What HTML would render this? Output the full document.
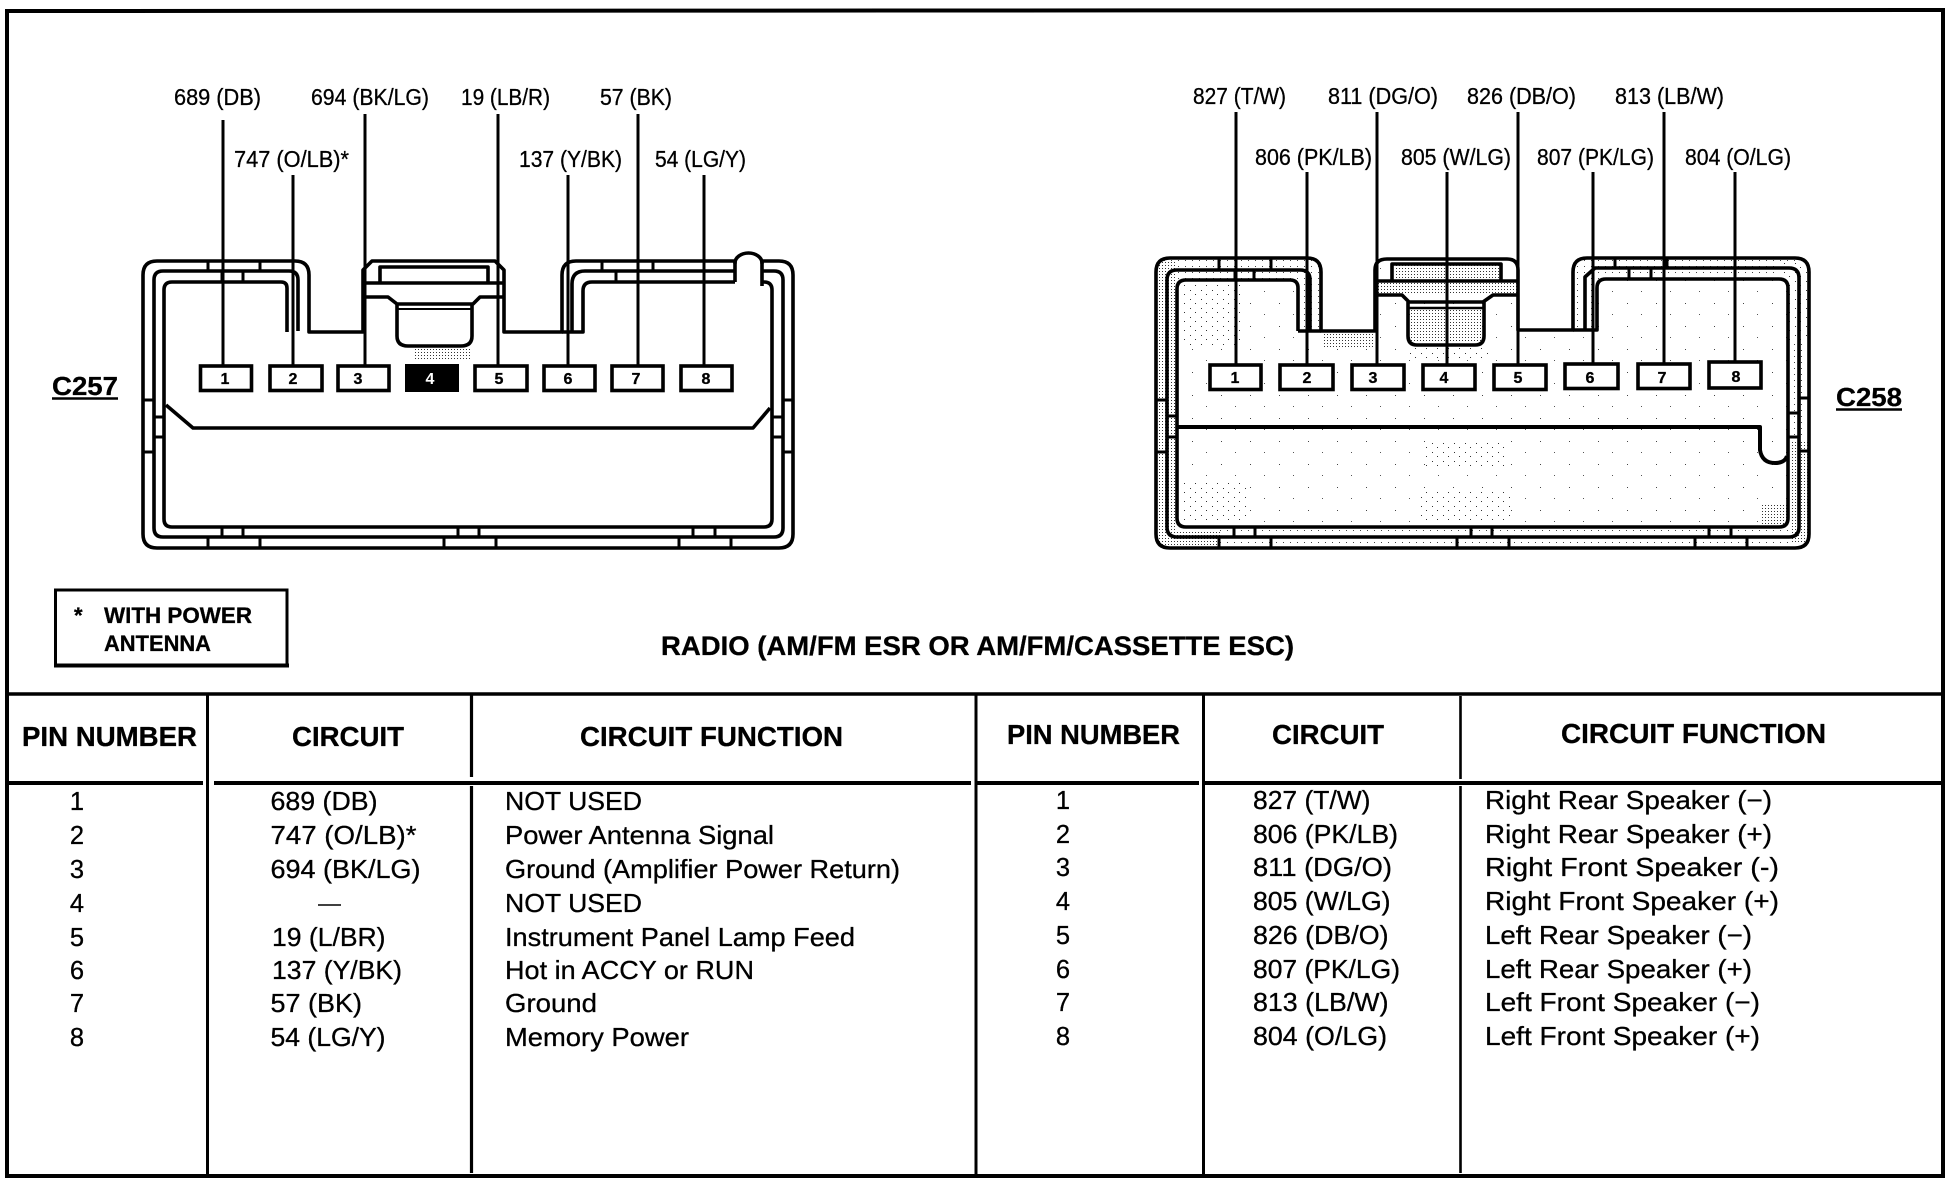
<!DOCTYPE html>
<html><head><meta charset="utf-8"><style>
html,body{margin:0;padding:0;background:#fff;width:1950px;height:1184px;overflow:hidden}
svg{display:block}
text{font-family:"Liberation Sans",Arial,sans-serif;fill:#000;stroke:#000;stroke-width:.3}
.l{font-size:23px}
.t{font-size:26px}
.h{font-size:27.5px;font-weight:bold}
.n{font-size:16px;font-weight:bold;text-anchor:middle}
.p{font-size:25.5px;text-anchor:middle}
.c{fill:none;stroke:#000;stroke-width:3.6;stroke-linejoin:round}
.d{stroke:#000;stroke-width:3}
.b{fill:#fff;stroke:#000;stroke-width:3.6}
.r{stroke:#000;fill:none}
</style></head><body>
<svg width="1950" height="1184" viewBox="0 0 1950 1184" xmlns="http://www.w3.org/2000/svg">
<defs>
<pattern id="st" width="3" height="3" patternUnits="userSpaceOnUse"><rect width="3" height="3" fill="#fff"/><rect x="1" y="1" width="1" height="1" fill="#333"/></pattern>
<pattern id="sm" width="7" height="6" patternUnits="userSpaceOnUse"><rect width="7" height="6" fill="#fff"/><rect x="2" y="2" width="1" height="1" fill="#444"/></pattern>
<pattern id="sp" width="29" height="23" patternUnits="userSpaceOnUse"><rect width="29" height="23" fill="#fff"/><rect x="3" y="4" width="1" height="1" fill="#444"/><rect x="17" y="15" width="1" height="1" fill="#555"/></pattern>
<pattern id="sc" width="11" height="9" patternUnits="userSpaceOnUse"><rect width="11" height="9" fill="#fff"/><rect x="2" y="2" width="1" height="1" fill="#333"/><rect x="7" y="6" width="1" height="1" fill="#333"/></pattern>
</defs>
<rect width="1950" height="1184" fill="#fff"/>

<!-- frame -->
<g class="r">
<path d="M7,1178 L7,11 L1943,10 L1943,1176 L7,1176" stroke-width="4"/>
<path d="M7,694 L1943,694" stroke-width="3.6"/>
<path d="M7,783 L203,783 M214,783 L971,783 M977,783 L1199,783 M1205,783 L1941,783" stroke-width="4"/>
<path d="M207.500,694 V1174 M976,694 V1174 M1203.500,694 V1176" stroke-width="3"/>
<path d="M471.500,694 V777 M471.500,786 V1173" stroke-width="3.2"/>
<path d="M1460.500,696 V779 M1460.500,786 V1173" stroke-width="2.6"/>
</g>

<!-- C257 connector -->
<g>
<rect x="415" y="349" width="55" height="10" fill="url(#st)"/>
<path class="c" d="M143,275 Q143,261 157,261 L295,261 Q309,261 309,275 L309,332 L363,332 L363,270 L372,261 L495,261 L504,270 L504,332 L562,332 L562,275 Q562,261 576,261 L735,261 L735,263 A13.500,10 0 0 1 762,263 L762,261 L779,261 Q793,261 793,275 L793,534 Q793,548 779,548 L157,548 Q143,548 143,534 Z"/>
<path class="c" d="M298,331 L298,280 Q298,271 289,271 L163,271 Q154,271 154,280 L154,528 Q154,537 163,537 L774,537 Q783,537 783,528 L783,280 Q783,271 774,271 L763,271 M735,271 L585,271 Q572,271 572,284 L572,331"/>
<path class="c" d="M287,332 L287,288 Q287,282 281,282 L172,282 Q164,282 164,290 L164,519 Q164,527 172,527 L764,527 Q772,527 772,519 L772,290 Q772,282 764,282 L762,282 M735,282 L592,282 Q583,282 583,291 L583,332 L562,332 M735,261 V282 M762,261 V286"/>
<path class="c" d="M166,405 L193,428 L753,428 L770,408"/>
<path class="c" d="M380,283 V267 H488 V283 M363,283 H504 M363,297 H388 L397,304 H473 L480,297 H504"/>
<path class="c" d="M397,304 V336 Q397,346 408,346 H461 Q472,346 472,336 V304" />
<path d="M397,309 H472" class="r" stroke-width="2"/>
<g class="d">
<path d="M208,261V271M260,261V271M602,261V271M653,261V271M243,271V282M222,271V282M616,271V282"/>
<path d="M222,527V537M243,527V537M458,527V537M479,527V537M693,527V537M715,527V537M208,537V548M260,537V548M444,537V548M496,537V548M679,537V548M731,537V548"/>
<path d="M143,400H154M143,452H154M154,417H164M154,437H164M783,400H793M783,452H793M772,417H783M772,437H783"/>
</g>
<g class="r" stroke-width="3">
<path d="M223,120V366M293,175V366M365,114V366M498,114V366M568,175V366M638,114V366M704,175V366"/>
</g>
<rect class="b" x="200.500" y="366" width="51" height="24.500"/>
<rect class="b" x="270" y="366" width="52" height="24.500"/>
<rect class="b" x="338" y="366" width="51" height="24.500"/>
<rect x="405" y="364" width="54" height="28" fill="#000"/>
<rect class="b" x="475" y="366" width="52" height="24.500"/>
<rect class="b" x="544" y="366" width="51" height="24.500"/>
<rect class="b" x="612" y="366" width="51" height="24.500"/>
<rect class="b" x="681" y="366" width="51" height="24.500"/>
<text class="n" x="225" y="384">1</text><text class="n" x="293" y="384">2</text><text class="n" x="358" y="384">3</text>
<text class="n" x="430" y="384" style="fill:#fff;stroke:none">4</text><text class="n" x="499" y="384">5</text><text class="n" x="568" y="384">6</text><text class="n" x="636" y="384">7</text><text class="n" x="706" y="384">8</text>
</g>

<!-- C258 connector -->
<g>
<path d="M1156,272 Q1156,258 1170,258 L1307,258 Q1321,258 1321,272 L1321,331 L1375,331 L1375,270 Q1375,259 1387,259 L1507,259 Q1518,259 1518,270 L1518,330 L1573,330 L1573,272 Q1573,258 1587,258 L1795,258 Q1809,258 1809,272 L1809,534 Q1809,548 1795,548 L1170,548 Q1156,548 1156,534 Z" fill="url(#sm)"/>
<rect x="1157" y="262" width="20" height="284" fill="url(#st)"/>
<rect x="1790" y="440" width="18" height="104" fill="url(#st)"/>
<rect x="1780" y="262" width="28" height="80" fill="url(#sc)"/>
<rect x="1160" y="530" width="60" height="16" fill="url(#st)"/>
<path d="M1177,288 Q1177,280 1186,280 L1290,280 Q1298,280 1298,288 L1298,330 L1375,330 L1375,258 L1518,258 L1518,330 L1597,330 L1597,288 Q1597,279 1606,279 L1780,279 Q1788,279 1788,288 L1788,519 Q1788,527 1779,527 L1186,527 Q1177,527 1177,519 Z" fill="url(#sp)"/>
<rect x="1322" y="333" width="52" height="16" fill="url(#st)"/>
<rect x="1376" y="283" width="141" height="11" fill="url(#st)"/>
<rect x="1394" y="265" width="105" height="15" fill="url(#st)"/>
<rect x="1410" y="310" width="72" height="33" fill="url(#st)"/>
<rect x="1405" y="347" width="85" height="13" fill="url(#sc)"/>
<rect x="1180" y="285" width="60" height="60" fill="url(#sc)"/>
<rect x="1425" y="440" width="80" height="30" fill="url(#sc)"/>
<rect x="1180" y="480" width="70" height="44" fill="url(#sc)"/>
<rect x="1420" y="490" width="90" height="34" fill="url(#sc)"/>
<rect x="1760" y="505" width="27" height="20" fill="url(#st)"/>
<path class="c" d="M1156,272 Q1156,258 1170,258 L1307,258 Q1321,258 1321,272 L1321,331 L1375,331 L1375,270 Q1375,259 1387,259 L1507,259 Q1518,259 1518,270 L1518,330 L1573,330 L1573,272 Q1573,258 1587,258 L1795,258 Q1809,258 1809,272 L1809,534 Q1809,548 1795,548 L1170,548 Q1156,548 1156,534 Z"/>
<path class="c" d="M1310,331 L1310,280 Q1310,270 1300,270 L1177,270 Q1167,270 1167,280 L1167,527 Q1167,537 1177,537 L1789,537 Q1799,537 1799,527 L1799,278 Q1799,268 1789,268 L1595,268 L1585,277 L1585,329"/>
<path class="c" d="M1298,331 L1298,288 Q1298,280 1290,280 L1186,280 Q1177,280 1177,289 L1177,518 Q1177,527 1186,527 L1779,527 Q1788,527 1788,518 L1788,288 Q1788,279 1779,279 L1606,279 Q1597,279 1597,288 L1597,330 L1573,330 M1298,331 H1321"/>
<path class="c" style="stroke-width:4" d="M1177,427 H1760 V450 Q1762,463 1775,463 Q1785,463 1787,456"/>
<path class="c" d="M1392,281 V264 H1501 V281 M1375,281 H1518 M1375,295 H1402 L1409,302 H1483 L1493,295 H1518"/>
<path class="c" d="M1408,302 V336 Q1408,345 1417,345 H1475 Q1484,345 1484,336 V302"/>
<path d="M1409,308 H1483" class="r" stroke-width="2.4"/>
<g class="d">
<path d="M1219,258V270M1271,258V270M1615,258V268M1667,258V268M1235,270V280M1254,270V280M1629,268V279M1651,268V279"/>
<path d="M1234,527V537M1255,527V537M1471,527V537M1492,527V537M1709,527V537M1731,527V537M1219,537V548M1271,537V548M1457,537V548M1509,537V548M1695,537V548M1747,537V548"/>
<path d="M1156,400H1167M1156,452H1167M1167,416H1177M1167,437H1177M1799,398H1809M1799,451H1809M1788,413H1799M1788,437H1799"/>
</g>
<g class="r" stroke-width="3">
<path d="M1236,112V365M1307,172V365M1377,112V365M1447,172V365M1518,112V365M1593,172V365M1664,112V364M1735,172V363"/>
</g>
<rect class="b" x="1210" y="365" width="51" height="24.500"/>
<rect class="b" x="1280" y="365" width="53" height="24.500"/>
<rect class="b" x="1352" y="365" width="52" height="24.500"/>
<rect class="b" x="1423" y="365" width="52" height="24.500"/>
<rect class="b" x="1494" y="365" width="52" height="24.500"/>
<rect class="b" x="1565" y="364" width="53" height="24.500"/>
<rect class="b" x="1638" y="364" width="52" height="24.500"/>
<rect class="b" x="1709" y="362" width="52" height="26"/>
<text class="n" x="1235" y="383">1</text><text class="n" x="1307" y="383">2</text><text class="n" x="1373" y="383">3</text><text class="n" x="1444" y="383">4</text>
<text class="n" x="1518" y="383">5</text><text class="n" x="1590" y="383">6</text><text class="n" x="1662" y="383">7</text><text class="n" x="1736" y="382">8</text>
</g>

<!-- connector labels -->
<g class="lab">
<text class="l" x="174" y="105" textLength="87" lengthAdjust="spacingAndGlyphs">689 (DB)</text>
<text class="l" x="311" y="105" textLength="118" lengthAdjust="spacingAndGlyphs">694 (BK/LG)</text>
<text class="l" x="461" y="105" textLength="89" lengthAdjust="spacingAndGlyphs">19 (LB/R)</text>
<text class="l" x="600" y="105" textLength="72" lengthAdjust="spacingAndGlyphs">57 (BK)</text>
<text class="l" x="234" y="167" textLength="115" lengthAdjust="spacingAndGlyphs">747 (O/LB)*</text>
<text class="l" x="519" y="167" textLength="103" lengthAdjust="spacingAndGlyphs">137 (Y/BK)</text>
<text class="l" x="655" y="167" textLength="91" lengthAdjust="spacingAndGlyphs">54 (LG/Y)</text>
<text class="l" x="1193" y="104" textLength="93" lengthAdjust="spacingAndGlyphs">827 (T/W)</text>
<text class="l" x="1328" y="104" textLength="110" lengthAdjust="spacingAndGlyphs">811 (DG/O)</text>
<text class="l" x="1467" y="104" textLength="109" lengthAdjust="spacingAndGlyphs">826 (DB/O)</text>
<text class="l" x="1615" y="104" textLength="109" lengthAdjust="spacingAndGlyphs">813 (LB/W)</text>
<text class="l" x="1255" y="165" textLength="117" lengthAdjust="spacingAndGlyphs">806 (PK/LB)</text>
<text class="l" x="1401" y="165" textLength="110" lengthAdjust="spacingAndGlyphs">805 (W/LG)</text>
<text class="l" x="1537" y="165" textLength="117" lengthAdjust="spacingAndGlyphs">807 (PK/LG)</text>
<text class="l" x="1685" y="165" textLength="106" lengthAdjust="spacingAndGlyphs">804 (O/LG)</text>
</g>

<text x="52" y="395" font-size="26" font-weight="bold" textLength="66" lengthAdjust="spacingAndGlyphs">C257</text>
<path d="M52,398.500H118" stroke="#000" stroke-width="2.6"/>
<text x="1836" y="406" font-size="26" font-weight="bold" textLength="66" lengthAdjust="spacingAndGlyphs">C258</text>
<path d="M1836,409.500H1902" stroke="#000" stroke-width="2.6"/>

<!-- legend -->
<path d="M55.500,665 V590 H287 V665" fill="none" stroke="#000" stroke-width="3"/>
<path d="M54,665.500 H289" stroke="#000" stroke-width="4"/>
<text x="74" y="623" font-size="22" font-weight="bold">*</text>
<text x="104" y="623" font-size="22" font-weight="bold" textLength="148" lengthAdjust="spacingAndGlyphs">WITH POWER</text>
<text x="104" y="651" font-size="22" font-weight="bold" textLength="107" lengthAdjust="spacingAndGlyphs">ANTENNA</text>

<text x="661" y="655" font-size="27" font-weight="bold" textLength="633" lengthAdjust="spacingAndGlyphs">RADIO (AM/FM ESR OR AM/FM/CASSETTE ESC)</text>

<!-- headers -->
<text class="h" x="22" y="746" textLength="175" lengthAdjust="spacingAndGlyphs">PIN NUMBER</text>
<text class="h" x="292" y="746" textLength="112" lengthAdjust="spacingAndGlyphs">CIRCUIT</text>
<text class="h" x="580" y="746" textLength="263" lengthAdjust="spacingAndGlyphs">CIRCUIT FUNCTION</text>
<text class="h" x="1007" y="744" textLength="173" lengthAdjust="spacingAndGlyphs">PIN NUMBER</text>
<text class="h" x="1272" y="744" textLength="112" lengthAdjust="spacingAndGlyphs">CIRCUIT</text>
<text class="h" x="1561" y="743" textLength="265" lengthAdjust="spacingAndGlyphs">CIRCUIT FUNCTION</text>

<!-- left rows -->
<text class="p" x="77" y="810">1</text><text class="p" x="77" y="844">2</text><text class="p" x="77" y="878">3</text><text class="p" x="77" y="912">4</text><text class="p" x="77" y="946">5</text><text class="p" x="77" y="979">6</text><text class="p" x="77" y="1012">7</text><text class="p" x="77" y="1046">8</text>
<text class="t" x="270.500" y="810" textLength="107" lengthAdjust="spacingAndGlyphs">689 (DB)</text>
<text class="t" x="270.500" y="844" textLength="146" lengthAdjust="spacingAndGlyphs">747 (O/LB)*</text>
<text class="t" x="270.500" y="878" textLength="150" lengthAdjust="spacingAndGlyphs">694 (BK/LG)</text>
<path d="M318,905H341" stroke="#000" stroke-width="1.6"/>
<text class="t" x="272" y="946" textLength="113.500" lengthAdjust="spacingAndGlyphs">19 (L/BR)</text>
<text class="t" x="272" y="979" textLength="130" lengthAdjust="spacingAndGlyphs">137 (Y/BK)</text>
<text class="t" x="270.500" y="1012" textLength="91.500" lengthAdjust="spacingAndGlyphs">57 (BK)</text>
<text class="t" x="270.500" y="1046" textLength="115" lengthAdjust="spacingAndGlyphs">54 (LG/Y)</text>
<text class="t" x="505" y="810" textLength="137" lengthAdjust="spacingAndGlyphs">NOT USED</text>
<text class="t" x="505" y="844" textLength="269" lengthAdjust="spacingAndGlyphs">Power Antenna Signal</text>
<text class="t" x="505" y="878" textLength="395" lengthAdjust="spacingAndGlyphs">Ground (Amplifier Power Return)</text>
<text class="t" x="505" y="912" textLength="137" lengthAdjust="spacingAndGlyphs">NOT USED</text>
<text class="t" x="505" y="946" textLength="350" lengthAdjust="spacingAndGlyphs">Instrument Panel Lamp Feed</text>
<text class="t" x="505" y="979" textLength="249" lengthAdjust="spacingAndGlyphs">Hot in ACCY or RUN</text>
<text class="t" x="505" y="1012" textLength="92" lengthAdjust="spacingAndGlyphs">Ground</text>
<text class="t" x="505" y="1046" textLength="184" lengthAdjust="spacingAndGlyphs">Memory Power</text>

<!-- right rows -->
<text class="p" x="1063" y="809">1</text><text class="p" x="1063" y="843">2</text><text class="p" x="1063" y="876">3</text><text class="p" x="1063" y="910">4</text><text class="p" x="1063" y="944">5</text><text class="p" x="1063" y="978">6</text><text class="p" x="1063" y="1011">7</text><text class="p" x="1063" y="1045">8</text>
<text class="t" x="1253" y="809" textLength="117.500" lengthAdjust="spacingAndGlyphs">827 (T/W)</text>
<text class="t" x="1253" y="843" textLength="145" lengthAdjust="spacingAndGlyphs">806 (PK/LB)</text>
<text class="t" x="1253" y="876" textLength="139" lengthAdjust="spacingAndGlyphs">811 (DG/O)</text>
<text class="t" x="1253" y="910" textLength="137.500" lengthAdjust="spacingAndGlyphs">805 (W/LG)</text>
<text class="t" x="1253" y="944" textLength="135.500" lengthAdjust="spacingAndGlyphs">826 (DB/O)</text>
<text class="t" x="1253" y="978" textLength="147" lengthAdjust="spacingAndGlyphs">807 (PK/LG)</text>
<text class="t" x="1253" y="1011" textLength="135.500" lengthAdjust="spacingAndGlyphs">813 (LB/W)</text>
<text class="t" x="1253" y="1045" textLength="134" lengthAdjust="spacingAndGlyphs">804 (O/LG)</text>
<text class="t" x="1485" y="809" textLength="287" lengthAdjust="spacingAndGlyphs">Right Rear Speaker (−)</text>
<text class="t" x="1485" y="843" textLength="287" lengthAdjust="spacingAndGlyphs">Right Rear Speaker (+)</text>
<text class="t" x="1485" y="876" textLength="294" lengthAdjust="spacingAndGlyphs">Right Front Speaker (-)</text>
<text class="t" x="1485" y="910" textLength="294" lengthAdjust="spacingAndGlyphs">Right Front Speaker (+)</text>
<text class="t" x="1485" y="944" textLength="267" lengthAdjust="spacingAndGlyphs">Left Rear Speaker (−)</text>
<text class="t" x="1485" y="978" textLength="267" lengthAdjust="spacingAndGlyphs">Left Rear Speaker (+)</text>
<text class="t" x="1485" y="1011" textLength="275" lengthAdjust="spacingAndGlyphs">Left Front Speaker (−)</text>
<text class="t" x="1485" y="1045" textLength="275" lengthAdjust="spacingAndGlyphs">Left Front Speaker (+)</text>
</svg>
</body></html>
